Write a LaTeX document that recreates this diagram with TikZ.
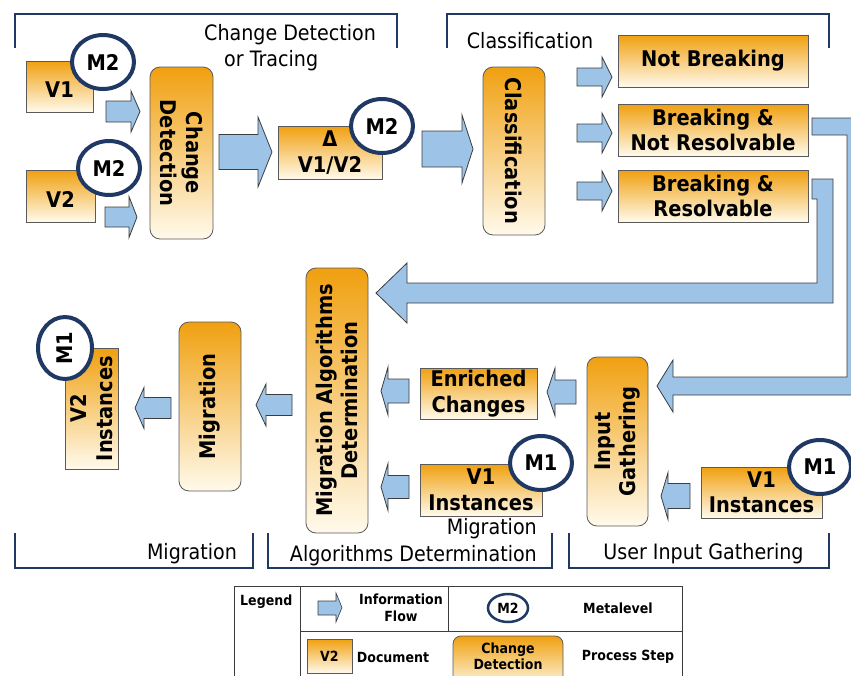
\documentclass[tikz,border=0pt]{standalone}
\usepackage{fontspec}
\setmainfont{DejaVu Sans}[FakeStretch=0.9]
\usetikzlibrary{shapes.geometric}

\definecolor{navy}{RGB}{31,56,100}
\definecolor{flowblue}{RGB}{157,195,230}
\definecolor{flowedge}{RGB}{60,60,60}
\definecolor{orgtop}{RGB}{240,160,16}
\definecolor{orgbot}{RGB}{255,250,236}
\definecolor{boxedge}{RGB}{90,90,90}

% block arrow: shaft start, head base, tip, centre y, shaft half width, head half width
\newcommand\blockflow[6]{%
  \draw[flow] (#1,#4-#5) -- (#2,#4-#5) -- (#2,#4-#6) -- (#3,#4)
    -- (#2,#4+#6) -- (#2,#4+#5) -- (#1,#4+#5) -- cycle;}
% text set a little below the box centre
\newcommand\lowered[1]{\raisebox{-3pt}[\height][0pt]{#1}}

\begin{document}
\begin{tikzpicture}[x=1pt,y=-1pt,
  bigbold/.style={font=\bfseries\fontsize{21.6}{25.5}\selectfont},
  doc/.style={rectangle, draw=boxedge, line width=0.8pt, top color=orgtop,
    bottom color=orgbot, inner sep=0pt, align=center, bigbold},
  proc/.style={doc, rounded corners=10pt},
  meta/.style={ellipse, draw=navy, line width=4pt, fill=white, inner sep=0pt,
    minimum width=62pt, minimum height=54pt, bigbold},
  vtext/.style={inner sep=0pt, align=center, bigbold},
  caption/.style={inner sep=0pt, font=\fontsize{21.2}{26.5}\selectfont},
  flow/.style={fill=flowblue, draw=flowedge, line width=0.8pt, line join=miter},
  bracket/.style={draw=navy, line width=2pt},
  legendline/.style={draw=flowedge, line width=0.9pt},
  legendtext/.style={inner sep=0pt, align=center, font=\bfseries\fontsize{14}{16.5}\selectfont}]

\useasboundingbox (0,0) rectangle (851,675);
\clip (0,0) rectangle (851,675);

% phase brackets
\draw[bracket] (15,48) -- (15,14) -- (397,14) -- (397,48);
\draw[bracket] (447,48) -- (447,14) -- (829,14) -- (829,48);
\draw[bracket] (15,533) -- (15,568) -- (253,568) -- (253,533);
\draw[bracket] (268,533) -- (268,568) -- (552,568) -- (552,533);
\draw[bracket] (569,533) -- (569,568) -- (829,568) -- (829,533);

\node[caption, align=left, anchor=north west] (capcd) at (204,24)
  {Change Detection\\\hspace*{20pt}or Tracing};
\node[caption] (capcls) at (530,41) {Classification};
\node[caption] (capmig) at (192,554) {Migration};
\node[caption, align=right, anchor=east] (capmad) at (537,542)
  {Migration\\Algorithms Determination};
\node[caption] (capuig) at (703.5,554) {User Input Gathering};

% change detection
\node[doc, minimum width=67pt, minimum height=51pt] (v1) at (59.5,86.5) {\lowered{V1}};
\node[doc, minimum width=69pt, minimum height=52pt] (v2) at (60.5,196) {\lowered{V2}};
\node[meta] (m2a) at (103,62) {M2};
\node[meta] (m2b) at (109,168) {M2};
\node[proc, minimum width=63pt, minimum height=172pt] (cd) at (181.5,153) {};
\node[vtext, rotate=-90] (cdt) at (cd.center) {Change\\Detection};
\node[doc, minimum width=104pt, minimum height=53pt] (delta) at (330,152.5)
  {Δ\\V1/V2};
\node[meta] (m2c) at (382,126) {M2};

\blockflow{106}{131}{140}{111.5}{10.5}{20.5}
\blockflow{105}{129}{137}{217}{10}{20.5}
\blockflow{219}{258}{272}{152}{17.5}{35}
\blockflow{422}{462}{473}{149}{18}{34}

% classification
\node[proc, minimum width=62pt, minimum height=168pt] (cls) at (514,151) {};
\node[vtext, rotate=-90] (clst) at (cls.center) {Classification};
\node[doc, minimum width=190pt, minimum height=52pt] (nb) at (713,61) {Not Breaking};
\node[doc, minimum width=190pt, minimum height=52pt] (bnr) at (713,130)
  {Breaking \&\\Not Resolvable};
\node[doc, minimum width=190pt, minimum height=52pt] (br) at (713,196)
  {Breaking \&\\Resolvable};

\blockflow{577}{602}{612}{77}{9}{20}
\blockflow{577}{602}{612}{133}{9}{20}
\blockflow{577}{602}{612}{191}{9}{20}

% routed flows
\draw[flow] (812,118) -- (864,118) -- (864,395) -- (673,395) -- (673,412)
  -- (657,386) -- (673,360) -- (673,377) -- (847,377) -- (847,135)
  -- (812,135) -- cycle;
\draw[flow] (812,179) -- (833,179) -- (833,303) -- (407,303) -- (407,323)
  -- (376,293) -- (407,263) -- (407,283) -- (817,283) -- (817,199)
  -- (812,199) -- cycle;

% user input gathering
\node[proc, minimum width=61pt, minimum height=169pt] (ig) at (617.5,441.5) {};
\node[vtext, rotate=90] (igt) at (ig.center) {Input\\Gathering};
\node[doc, minimum width=121pt, minimum height=51pt] (v1r) at (761.5,492.5)
  {V1\\Instances};
\node[meta] (m1r) at (820,467) {M1};

\blockflow{690}{668}{661}{496}{12.5}{23.5}
\blockflow{576}{555}{547}{392}{12}{24}

% migration algorithms determination
\node[doc, minimum width=117pt, minimum height=51pt] (ec) at (478.5,393.5)
  {Enriched\\Changes};
\node[doc, minimum width=122pt, minimum height=52pt] (v1m) at (481,490)
  {V1\\Instances};
\node[meta] (m1m) at (541,463) {M1};
\node[proc, minimum width=62pt, minimum height=265pt] (mad) at (337,400.5) {};
\node[vtext, rotate=90] (madt) at (mad.center) {Migration Algorithms\\Determination};

\blockflow{409}{388}{381}{391}{12}{24}
\blockflow{409}{388}{381}{487}{11.5}{23.5}
\blockflow{292}{266}{256}{405}{10.5}{21}

% migration
\node[proc, minimum width=62pt, minimum height=169pt] (mig) at (210,406.5) {};
\node[vtext, rotate=90] (migt) at (mig.center) {Migration};
\node[doc, minimum width=53pt, minimum height=121pt] (v2i) at (91.5,408.5) {};
\node[vtext, rotate=90] (v2it) at (v2i.center) {V2\\Instances};
\node[meta, minimum width=54pt, minimum height=62pt] (m1l) at (65,348) {};
\node[vtext, rotate=90] (m1lt) at (m1l.center) {M1};

\blockflow{171}{144}{135}{408}{10.5}{20.5}

% legend
\draw[legendline] (234,586) rectangle (682,700);
\draw[legendline] (300,586) -- (300,700);
\draw[legendline] (448,586) -- (448,631);
\draw[legendline] (300,631) -- (682,631);
\node[legendtext, anchor=west] (lgd) at (240,602) {Legend};
\draw[flow, line width=0.6pt] (318,601) -- (336,601) -- (336,593) -- (342,607.5)
  -- (336,622) -- (336,615) -- (318,615) -- cycle;
\node[legendtext] (lgflow) at (401,608) {Information\\Flow};
\node[ellipse, draw=navy, line width=2.5pt, fill=white, inner sep=0pt,
  minimum width=40pt, minimum height=28pt,
  font=\bfseries\fontsize{14}{16.5}\selectfont] (lgmeta) at (508,608) {M2};
\node[legendtext] (lgmetat) at (618,608) {Metalevel};
\node[doc, minimum width=45pt, minimum height=34pt,
  font=\bfseries\fontsize{14}{16.5}\selectfont] (lgdoc) at (329.5,656) {V2};
\node[legendtext] (lgdoct) at (393,657) {Document};
\node[proc, minimum width=110pt, minimum height=52pt, rounded corners=8pt] (lgproc)
  at (508,662) {};
\node[legendtext] (lgproct) at (508,656.5) {Change\\Detection};
\node[legendtext] (lgprocs) at (628,657) {Process Step};

\end{tikzpicture}
\end{document}
